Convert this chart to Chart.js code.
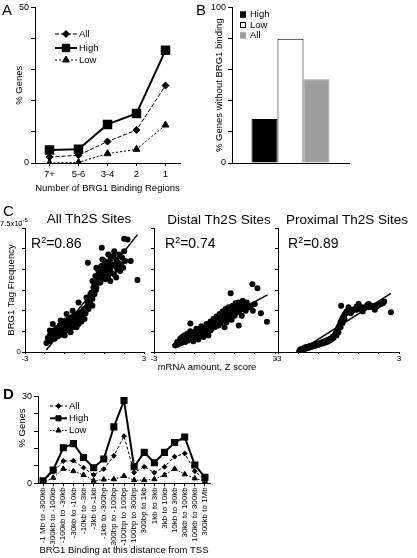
<!DOCTYPE html>
<html>
<head>
<meta charset="utf-8">
<script src="https://cdn.jsdelivr.net/npm/chart.js@4.4.1/dist/chart.umd.min.js"></script>
<style>
  html, body { margin: 0; padding: 0; background: #fff; }
  #fig { position: relative; width: 417px; height: 558px; overflow: hidden;
         font-family: 'Liberation Sans', Arial, sans-serif; color: #000; }
  #fig canvas, #fig .t { position: absolute; }
  .t { white-space: nowrap; line-height: 1; }
  .letter { font-size: 15px; }
  .sub { font-size: 13.5px; transform: translate(-50%, -50%); }
  .r2 { font-size: 14px; }
  .r2 sup { font-size: 9px; vertical-align: 5px; line-height: 0; }
  .mid { font-size: 9.5px; transform: translate(-50%, -50%); }
  .rot { font-size: 9.5px; transform: translate(-50%, -50%) rotate(-90deg); }
  .exp { font-size: 7.5px; }
  .exp sup { font-size: 6px; vertical-align: 4px; line-height: 0; }
</style>
</head>
<body>
<div id="fig">
  <canvas id="chartA" width="205" height="200" style="left:0;top:0"></canvas>
  <canvas id="chartB" width="212" height="200" style="left:205px;top:0"></canvas>
  <canvas id="chartC1" width="150" height="175" style="left:0;top:200px"></canvas>
  <canvas id="chartC2" width="150" height="175" style="left:130px;top:200px"></canvas>
  <canvas id="chartC3" width="162" height="175" style="left:255px;top:200px"></canvas>
  <canvas id="chartD" width="232" height="173" style="left:0;top:385px"></canvas>

  <div class="t letter" style="left:2px;top:2px">A</div>
  <div class="t letter" style="left:196px;top:2px">B</div>
  <div class="t letter" style="left:3px;top:203px">C</div>
  <div class="t letter" style="left:3px;top:386px;font-weight:bold">D</div>

  <div class="t sub" style="left:89px;top:219px">All Th2S Sites</div>
  <div class="t sub" style="left:219px;top:220px">Distal Th2S Sites</div>
  <div class="t sub" style="left:347px;top:220px">Proximal Th2S Sites</div>

  <div class="t r2" style="left:31px;top:236px">R<sup>2</sup>=0.86</div>
  <div class="t r2" style="left:165px;top:236px">R<sup>2</sup>=0.74</div>
  <div class="t r2" style="left:288px;top:236px">R<sup>2</sup>=0.89</div>

  <div class="t exp" style="left:0;top:220px">7.5x10<sup>-5</sup></div>
  <div class="t mid" style="left:207px;top:367px">mRNA amount, Z score</div>
  <div class="t rot" style="left:22px;top:428px">% Genes</div>
</div>

<script>
// Panel A: % genes by number of BRG1 binding regions
const aCategories = ['7+', '5-6', '3-4', '2', '1'];
const aAll = [1.9, 2.5, 6.9, 10.6, 24.9];
const aHigh = [4.2, 4.4, 12.4, 15.9, 36.2];
const aLow = [0, 0.2, 3.0, 4.4, 12.2];

// Panel B: % genes without BRG1 binding
const bGroups = ['High', 'Low', 'All'];
const bValues = [28.2, 79.9, 53.8];

// Panel C: [mRNA Z score, BRG1 tag frequency x1e-5]
const allSites = [
  [-1.92,0.55],[-1.85,0.85],[-1.8,0.65],[-1.75,1.0],[-1.7,0.75],[-1.65,1.15],[-1.6,0.9],[-1.55,1.3],
  [-1.5,0.8],[-1.45,1.1],[-1.4,1.45],[-1.35,0.95],[-1.3,1.25],[-1.25,1.6],[-1.2,1.05],[-1.15,1.4],
  [-1.1,1.75],[-1.05,1.2],[-1.0,1.55],[-0.95,1.9],[-0.9,1.3],[-0.85,1.65],[-0.8,2.0],[-0.75,1.4],
  [-0.7,1.75],[-0.65,2.1],[-0.6,1.5],[-0.55,1.85],[-0.5,2.2],[-0.45,1.6],[-0.4,1.95],[-0.35,2.3],
  [-0.3,1.7],[-0.25,2.05],[-0.2,2.4],[-0.15,1.85],[-0.1,2.2],[-0.05,2.55],[0.0,2.0],[0.05,2.35],
  [-1.6,1.7],[-1.2,1.9],[-0.9,2.3],[-0.6,2.5],[-1.4,1.0],[-1.0,1.0],[-0.7,1.2],[-0.4,1.5],
  [-1.75,1.3],[-1.1,1.3],[-0.5,1.8],[-0.2,2.0],
  [0.1,2.7],[0.15,3.0],[0.2,2.6],[0.25,3.3],[0.3,2.9],[0.35,3.6],[0.4,3.2],[0.45,3.9],
  [0.3,3.5],[0.2,3.2],[0.5,3.5],[0.1,3.3],[0.0,2.6],[0.4,2.8],
  [0.4,4.3],[0.5,4.1],[0.55,4.6],[0.6,3.9],[0.65,4.4],[0.7,4.9],[0.75,4.2],[0.8,4.7],
  [0.85,5.2],[0.9,4.5],[0.95,5.0],[1.0,5.5],[1.05,4.4],[1.1,4.9],[1.15,5.4],[1.2,4.6],
  [1.25,5.1],[1.3,5.6],[1.35,4.8],[1.4,5.3],[1.45,5.8],[1.5,4.7],[1.55,5.2],[1.6,5.6],
  [1.65,5.0],[1.7,5.4],[1.75,5.9],[1.8,4.9],[1.85,5.3],[1.9,5.7],[1.95,5.1],[2.0,6.1],
  [2.05,5.5],[0.9,5.6],[1.2,5.9],[1.5,6.1],[0.6,5.1],[1.6,4.5],[1.3,4.3],[1.0,4.8],
  [1.3,5.0],[1.7,5.2],[0.8,4.2],[1.1,5.2],
  [0.17,5.4],[0.87,6.3],[2.0,6.85],[2.17,6.8],[2.33,5.5],[2.67,4.35],[0.58,3.75],[-0.3,3.0]
];
const allFit = [[-1.92, 0.12], [2.67, 7.1]];

const distalSites = [
  [-1.95,0.4],[-1.85,0.6],[-1.8,0.45],[-1.7,0.8],[-1.65,0.55],[-1.6,0.9],[-1.55,0.7],[-1.5,1.0],
  [-1.45,0.6],[-1.4,0.85],[-1.35,1.1],[-1.3,0.7],[-1.25,0.95],[-1.2,1.25],[-1.15,0.8],[-1.1,1.05],
  [-1.05,0.65],[-1.0,1.2],[-0.95,0.9],[-0.9,1.4],[-0.85,1.05],[-0.8,0.75],[-0.75,1.3],[-0.7,1.0],
  [-0.65,1.55],[-0.6,1.2],[-0.55,0.9],[-0.5,1.45],[-0.45,1.15],[-0.4,1.7],[-0.35,1.3],[-0.3,1.0],
  [-0.25,1.55],[-0.2,1.85],[-0.15,1.4],[-0.1,1.65],[-0.05,2.0],[0.0,1.5],[0.05,1.8],[0.1,2.15],
  [0.15,1.6],[0.2,1.95],[0.25,2.3],[0.3,1.75],[0.35,2.1],[0.4,2.45],[0.45,1.9],[0.5,2.25],
  [0.55,2.6],[0.6,2.0],[0.65,2.35],[0.7,2.7],[0.75,2.15],[0.8,2.5],[0.85,1.95],[0.9,2.8],
  [0.95,2.3],[1.0,2.6],[1.05,2.95],[1.1,2.4],[1.15,2.75],[1.2,3.0],[1.25,2.5],[1.3,2.85],
  [1.35,2.2],[1.4,3.1],[1.45,2.6],[1.5,2.9],[1.55,2.5],[1.6,3.0],[1.7,2.7],[1.8,2.8],
  [1.9,2.5],[2.0,2.9],[-1.0,0.8],[-0.6,1.0],[-0.2,1.3],[0.2,1.6],[0.6,1.8],[1.0,2.2],
  [-1.2,1.73],[0.8,3.55],[1.88,4.1],[2.13,3.85],[2.3,2.35],[2.6,1.83],[0.5,1.5],[1.2,1.6]
];
const distalFit = [[-2.0, 0.45], [2.63, 3.46]];

const proximalSites = [
  [-1.95,0.05],[-1.9,0.15],[-1.85,0.1],[-1.8,0.2],[-1.75,0.12],[-1.7,0.25],[-1.65,0.18],[-1.6,0.3],
  [-1.55,0.22],[-1.5,0.32],[-1.45,0.27],[-1.4,0.38],[-1.35,0.3],[-1.3,0.4],[-1.25,0.35],[-1.2,0.45],
  [-1.15,0.38],[-1.1,0.48],[-1.05,0.42],[-1.0,0.52],[-0.95,0.45],[-0.9,0.55],[-0.85,0.5],[-0.8,0.6],
  [-0.75,0.53],[-0.7,0.65],[-0.65,0.58],[-0.6,0.7],[-0.55,0.62],[-0.5,0.75],[-0.45,0.68],[-0.4,0.8],
  [-0.35,0.75],[-0.3,0.9],
  [-0.25,0.85],[-0.2,1.0],[-0.15,1.1],[-0.1,1.25],[-0.05,1.35],[0.0,1.5],[0.05,1.6],[0.1,1.8],
  [0.15,1.9],[0.2,2.05],[0.25,2.15],[0.3,2.25],[0.35,2.35],[0.0,1.2],[0.1,1.5],[0.2,1.75],
  [0.3,2.0],[-0.1,1.0],
  [0.4,2.45],[0.5,2.5],[0.6,2.55],[0.7,2.5],[0.8,2.6],[0.9,2.55],[1.0,2.65],[1.1,2.6],
  [1.2,2.7],[1.3,2.65],[1.4,2.75],[1.5,2.7],[1.6,2.8],[1.7,2.7],[1.8,2.8],[1.9,2.75],
  [2.0,2.85],[2.1,2.9],[0.6,2.35],[0.9,2.75],[1.2,2.45],[1.5,2.9],[1.8,2.55],[0.5,2.7],
  [0.13,2.8],[1.43,2.85],[1.0,2.9],[2.27,3.05],[2.2,2.95],[2.6,2.4]
];
const proximalFit = [[-1.98, 0.02], [2.6, 3.55]];

// Panel D: % genes by BRG1 binding distance from TSS
const dLabels = ['-1 Mb to -300kb', '-300kb to -100kb', '-100kb to -30kb', '-30kb to -10kb',
  '-10kb to -3kb', '-3kb to -1kb', '-1kb to -300bp', '-300bp to -100bp', '-100bp to 100bp',
  '100bp to 300bp', '300bp to 1kb', '1kb to 3kb', '3kb to 10kb', '10kb to 30kb',
  '30kb to 100kb', '100kb to 300kb', '300kb to 1Mb'];
const dAll = [0.6, 4.0, 7.7, 7.8, 5.4, 2.9, 4.9, 9.5, 16.3, 3.7, 5.7, 3.7, 5.7, 9.2, 10.3, 4.2, 1.1];
const dHigh = [0.9, 4.6, 12.3, 13.7, 8.9, 5.4, 8.4, 19.5, 28.6, 5.7, 10.7, 7.1, 10.7, 14.1, 16.0, 6.3, 2.1];
const dLow = [0.3, 1.9, 5.0, 4.2, 2.9, 0.9, 1.3, 1.4, 2.5, 1.1, 1.1, 1.4, 2.9, 5.0, 3.1, 1.7, 0.8];

const FONT = "'Liberation Sans', Arial, sans-serif";
Chart.defaults.font.family = FONT;
Chart.defaults.color = '#000';
Chart.defaults.animation = false;
Chart.defaults.responsive = false;
Chart.defaults.plugins.legend.display = false;
Chart.defaults.plugins.tooltip.enabled = false;

const fixW = w => s => { s.width = w; };
const fixH = h => s => { s.height = h; };
const axisBorder = { color: '#000', width: 1 };
const tickGrid = len => ({ drawOnChartArea: false, color: '#000', tickLength: len });

// legend drawn inside the plot: line + marker, or filled box
const innerLegend = {
  id: 'innerLegend',
  afterDraw(chart, args, opts) {
    if (!opts.y) return;
    const ctx = chart.ctx;
    ctx.save();
    ctx.font = '9.5px ' + FONT;
    ctx.textBaseline = 'middle';
    chart.data.datasets.forEach((ds, i) => {
      const y = opts.y[i];
      ctx.strokeStyle = '#000';
      ctx.fillStyle = '#000';
      if (opts.box) {
        ctx.fillStyle = ds.backgroundColor;
        ctx.fillRect(opts.x, y - opts.box / 2, opts.box, opts.box);
        ctx.strokeStyle = ds.borderColor;
        ctx.lineWidth = 1;
        ctx.strokeRect(opts.x + 0.5, y - opts.box / 2 + 0.5, opts.box - 1, opts.box - 1);
        ctx.fillStyle = '#000';
        ctx.fillText(ds.label, opts.x + opts.box + 4, y);
        return;
      }
      ctx.lineWidth = ds.borderWidth;
      ctx.setLineDash(ds.borderDash || []);
      ctx.beginPath();
      ctx.moveTo(opts.x, y);
      ctx.lineTo(opts.x + opts.len, y);
      ctx.stroke();
      ctx.setLineDash([]);
      ctx.lineWidth = 1;
      Chart.helpers.drawPoint(ctx, {
        pointStyle: ds.pointStyle, radius: ds.pointRadius, borderWidth: 1, rotation: 0
      }, opts.x + opts.len / 2, y);
      ctx.fillText(ds.label, opts.x + opts.len + 2, y);
    });
    ctx.restore();
  }
};

function lineSet(label, data, width, dash, style, radius) {
  return {
    label: label, data: data,
    borderColor: '#000', backgroundColor: '#000', borderWidth: width, borderDash: dash,
    pointStyle: style, pointRadius: radius, pointBackgroundColor: '#000', pointBorderColor: '#000'
  };
}

// A
new Chart(document.getElementById('chartA'), {
  type: 'line',
  data: {
    labels: aCategories,
    datasets: [
      lineSet('All', aAll, 1, [4, 2], 'rectRot', 3.5),
      lineSet('High', aHigh, 2, [], 'rect', 5.3),
      lineSet('Low', aLow, 1, [2, 2], 'triangle', 4)
    ]
  },
  options: {
    devicePixelRatio: 1,
    layout: { padding: { top: 6, right: 25, left: 0, bottom: 0 } },
    scales: {
      x: {
        offset: true,
        grid: tickGrid(3), border: axisBorder,
        ticks: { font: { size: 9.5 }, padding: 3 },
        title: { display: true, text: 'Number of BRG1 Binding Regions', font: { size: 9.5 }, padding: { top: 0, bottom: 6 } },
        afterFit: fixH(37)
      },
      y: {
        min: 0, max: 50,
        grid: tickGrid(4), border: axisBorder,
        ticks: { stepSize: 10, font: { size: 9 }, padding: 2, callback: v => (v === 0 || v === 50) ? v : '' },
        title: { display: true, text: '% Genes', font: { size: 9.5 }, padding: { top: 14, bottom: 0 } },
        afterFit: fixW(35)
      }
    },
    plugins: { innerLegend: { x: 55, len: 22, y: [34, 48, 60] } }
  },
  plugins: [innerLegend]
});

// B
new Chart(document.getElementById('chartB'), {
  type: 'bar',
  data: {
    labels: [''],
    datasets: [
      { label: bGroups[0], data: [bValues[0]], backgroundColor: '#000', borderColor: '#000', borderWidth: 1 },
      { label: bGroups[1], data: [bValues[1]], backgroundColor: '#fff', borderColor: '#000', borderWidth: 1 },
      { label: bGroups[2], data: [bValues[2]], backgroundColor: '#9e9e9e', borderColor: '#9e9e9e', borderWidth: 1 }
    ]
  },
  options: {
    devicePixelRatio: 1,
    categoryPercentage: 0.667,
    barPercentage: 1,
    layout: { padding: { top: 6, right: 68, left: 0, bottom: 0 } },
    scales: {
      x: { grid: { display: false }, border: axisBorder, ticks: { display: false }, afterFit: fixH(37) },
      y: {
        min: 0, max: 100,
        grid: tickGrid(4), border: axisBorder,
        ticks: { stepSize: 20, font: { size: 9 }, padding: 2, callback: v => (v === 0 || v === 100) ? v : '' },
        title: { display: true, text: '% Genes without BRG1 binding', font: { size: 9.5 }, padding: { top: 9, bottom: 0 } },
        afterFit: fixW(27)
      }
    },
    plugins: { innerLegend: { x: 35, box: 6, y: [14.5, 25, 35.5] } }
  },
  plugins: [innerLegend]
});

// C
function scatterPanel(id, points, fit, yWidth, padRight, showY) {
  return new Chart(document.getElementById(id), {
    type: 'scatter',
    data: {
      datasets: [
        {
          type: 'line', data: fit.map(p => ({ x: p[0], y: p[1] })),
          borderColor: '#000', borderWidth: 1.5, pointRadius: 0, fill: false
        },
        {
          data: points.map(p => ({ x: p[0], y: p[1] })),
          backgroundColor: '#000', borderColor: '#000', pointRadius: 3, pointBorderWidth: 0
        }
      ]
    },
    options: {
      devicePixelRatio: 1,
      layout: { padding: { top: 28, right: padRight, left: 0, bottom: 0 } },
      scales: {
        x: {
          type: 'linear', min: -3, max: 3,
          grid: tickGrid(2), border: axisBorder,
          ticks: { stepSize: 1, autoSkip: false, maxRotation: 0, font: { size: 8 }, padding: 0,
                   callback: v => (v === -3 || v === 3) ? String(v) : '' },
          afterFit: fixH(23)
        },
        y: {
          min: 0, max: 7.5,
          grid: tickGrid(3), border: axisBorder,
          ticks: { stepSize: 1.25, font: { size: 8 }, padding: 1, callback: v => (showY && v === 0) ? '0' : '' },
          title: { display: showY, text: 'BRG1 Tag Frequency', font: { size: 9.5 }, padding: { top: 6, bottom: 0 } },
          afterFit: fixW(yWidth)
        }
      }
    }
  });
}
scatterPanel('chartC1', allSites, allFit, 25, 6, true);
scatterPanel('chartC2', distalSites, distalFit, 24, 5, false);
scatterPanel('chartC3', proximalSites, proximalFit, 23, 18, false);

// D
new Chart(document.getElementById('chartD'), {
  type: 'line',
  data: {
    labels: dLabels,
    datasets: [
      lineSet('All', dAll, 1, [3, 2], 'rectRot', 2.4),
      lineSet('High', dHigh, 2, [], 'rect', 3.6),
      lineSet('Low', dLow, 1, [1.5, 1.5], 'triangle', 3)
    ]
  },
  options: {
    devicePixelRatio: 1,
    layout: { padding: { top: 11.5, right: 22, left: 0, bottom: 0 } },
    scales: {
      x: {
        offset: true,
        grid: tickGrid(3), border: axisBorder,
        ticks: { autoSkip: false, minRotation: 90, maxRotation: 90, font: { size: 8 }, padding: 1 },
        title: { display: true, text: 'BRG1 Binding at this distance from TSS', font: { size: 9.5 }, padding: { top: 0, bottom: 1.5 } },
        afterFit: fixH(74.7)
      },
      y: {
        min: 0, max: 30,
        grid: tickGrid(4), border: axisBorder,
        ticks: { stepSize: 6, font: { size: 9 }, padding: 2, callback: v => (v === 0 || v === 30) ? v : '' },
        afterFit: fixW(38)
      }
    },
    plugins: { innerLegend: { x: 50, len: 17, y: [21, 33.3, 45.5] } }
  },
  plugins: [innerLegend]
});
</script>
</body>
</html>
